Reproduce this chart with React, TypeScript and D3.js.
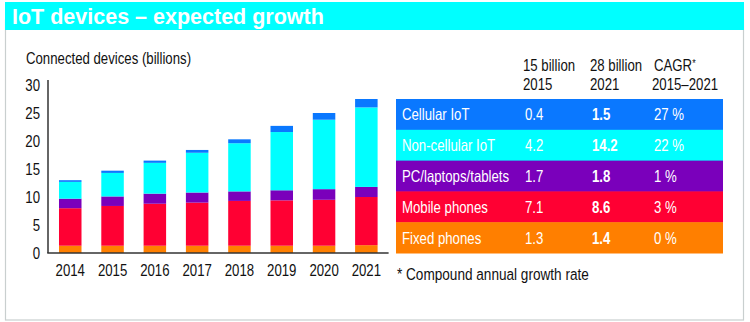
import React from "react";
import * as d3 from "d3";

const years = ["2014", "2015", "2016", "2017", "2018", "2019", "2020", "2021"];
const fixedPhones = [1.3, 1.3, 1.3, 1.3, 1.3, 1.3, 1.3, 1.4];
const mobilePhones = [6.7, 7.1, 7.5, 7.7, 8.0, 8.1, 8.2, 8.6];
const pcLaptopsTablets = [1.7, 1.7, 1.8, 1.8, 1.7, 1.8, 1.9, 1.8];
const nonCellularIoT = [3.0, 4.2, 5.5, 7.1, 8.6, 10.4, 12.4, 14.2];
const cellularIoT = [0.3, 0.4, 0.4, 0.5, 0.7, 1.1, 1.2, 1.5];
const yTicks = [0, 5, 10, 15, 20, 25, 30];

const tableCategories = ["Cellular IoT", "Non-cellular IoT", "PC/laptops/tablets", "Mobile phones", "Fixed phones"];
const values2015 = ["0.4", "4.2", "1.7", "7.1", "1.3"];
const values2021 = ["1.5", "14.2", "1.8", "8.6", "1.4"];
const cagrValues = ["27 %", "22 %", "1 %", "3 %", "0 %"];

const seriesKeys = ["fixed", "mobile", "pc", "noncell", "cell"];
const seriesColors: Record<string, string> = {
  fixed: "#ff7f00",
  mobile: "#ff0033",
  pc: "#7a00bb",
  noncell: "#00ffff",
  cell: "#0a78ff",
};
const rowColors = ["#0a78ff", "#00ffff", "#7a00bb", "#ff0033", "#ff7f00"];

const FONT = "'Liberation Sans', Arial, sans-serif";

function CT(props: {
  x: number;
  y: number;
  size: number;
  anchor?: string;
  bold?: boolean;
  fill?: string;
  dy?: string;
  children: React.ReactNode;
}) {
  const { x, y, size, anchor = "start", bold, fill = "#111", dy, children } = props;
  return (
    <text
      transform={`translate(${x},${y}) scale(0.8,1)`}
      fontSize={size}
      textAnchor={anchor}
      fontWeight={bold ? "bold" : "normal"}
      fill={fill}
      dy={dy}
    >
      {children}
    </text>
  );
}

export default function App() {
  const rows = years.map((year, i) => ({
    year,
    fixed: fixedPhones[i],
    mobile: mobilePhones[i],
    pc: pcLaptopsTablets[i],
    noncell: nonCellularIoT[i],
    cell: cellularIoT[i],
  }));
  const stack = d3.stack<any>().keys(seriesKeys)(rows);

  const x = d3.scaleBand().domain(years).range([48, 388.6]).paddingInner(0.468).paddingOuter(0.26);
  const y = d3.scaleLinear().domain([0, 30]).range([253, 85]);

  const rowY = d3.scaleBand().domain(tableCategories).range([99, 253]);

  return (
    <svg
      width={750}
      height={322}
      style={{ position: "fixed", left: 0, top: 0, background: "#fff" }}
      fontFamily={FONT}
    >
      {/* frame */}
      <rect x={5.5} y={20} width={738} height={300} fill="none" stroke="#c9cfcf" strokeWidth={1.2} />
      {/* banner */}
      <rect x={5} y={2} width={739} height={28} fill="#00ffff" />
      <text x={12} y={24} fill="#fff" fontWeight="bold" fontSize={21.5}>
        IoT devices – expected growth
      </text>

      <CT x={26} y={64} size={16.5}>Connected devices (billions)</CT>

      {/* bars */}
      {stack.map((s) => (
        <g key={s.key} fill={seriesColors[s.key]}>
          {s.map((d, i) => (
            <rect
              key={i}
              x={x(years[i])}
              y={y(d[1])}
              width={x.bandwidth()}
              height={y(d[0]) - y(d[1])}
            />
          ))}
        </g>
      ))}

      {/* axes */}
      <line x1={48} x2={48} y1={80} y2={253} stroke="#333" strokeWidth={1.5} />
      <line x1={47.25} x2={388.6} y1={253} y2={253} stroke="#333" strokeWidth={1.5} />
      {yTicks.map((t) => (
        <CT key={t} x={40} y={y(t)} dy="0.36em" anchor="end" size={16.5}>
          {t}
        </CT>
      ))}
      {years.map((yr) => (
        <CT key={yr} x={(x(yr) ?? 0) + x.bandwidth() / 2} y={276} anchor="middle" size={16.5}>
          {yr}
        </CT>
      ))}

      {/* table header */}
      <CT x={523} y={71} size={16.5}>15 billion</CT>
      <CT x={523} y={90} size={16.5}>2015</CT>
      <CT x={590} y={71} size={16.5}>28 billion</CT>
      <CT x={590} y={90} size={16.5}>2021</CT>
      <CT x={654} y={71} size={16.5}>
        CAGR<tspan dy={-4} fontSize={11}>*</tspan>
      </CT>
      <CT x={652} y={90} size={16.5}>2015–2021</CT>

      {/* table rows */}
      {tableCategories.map((c, i) => {
        const ry = rowY(c) ?? 0;
        const h = rowY.bandwidth();
        const ty = ry + h / 2;
        return (
          <g key={c}>
            <rect x={396} y={ry} width={327} height={h + 0.5} fill={rowColors[i]} />
            <CT x={402} y={ty} dy="0.36em" size={16.5} fill="#fff">{c}</CT>
            <CT x={525} y={ty} dy="0.36em" size={16.5} fill="#fff">{values2015[i]}</CT>
            <CT x={592} y={ty} dy="0.36em" size={16.5} fill="#fff" bold>{values2021[i]}</CT>
            <CT x={654} y={ty} dy="0.36em" size={16.5} fill="#fff">{cagrValues[i]}</CT>
          </g>
        );
      })}

      <CT x={397} y={280} size={17}>* Compound annual growth rate</CT>
    </svg>
  );
}
